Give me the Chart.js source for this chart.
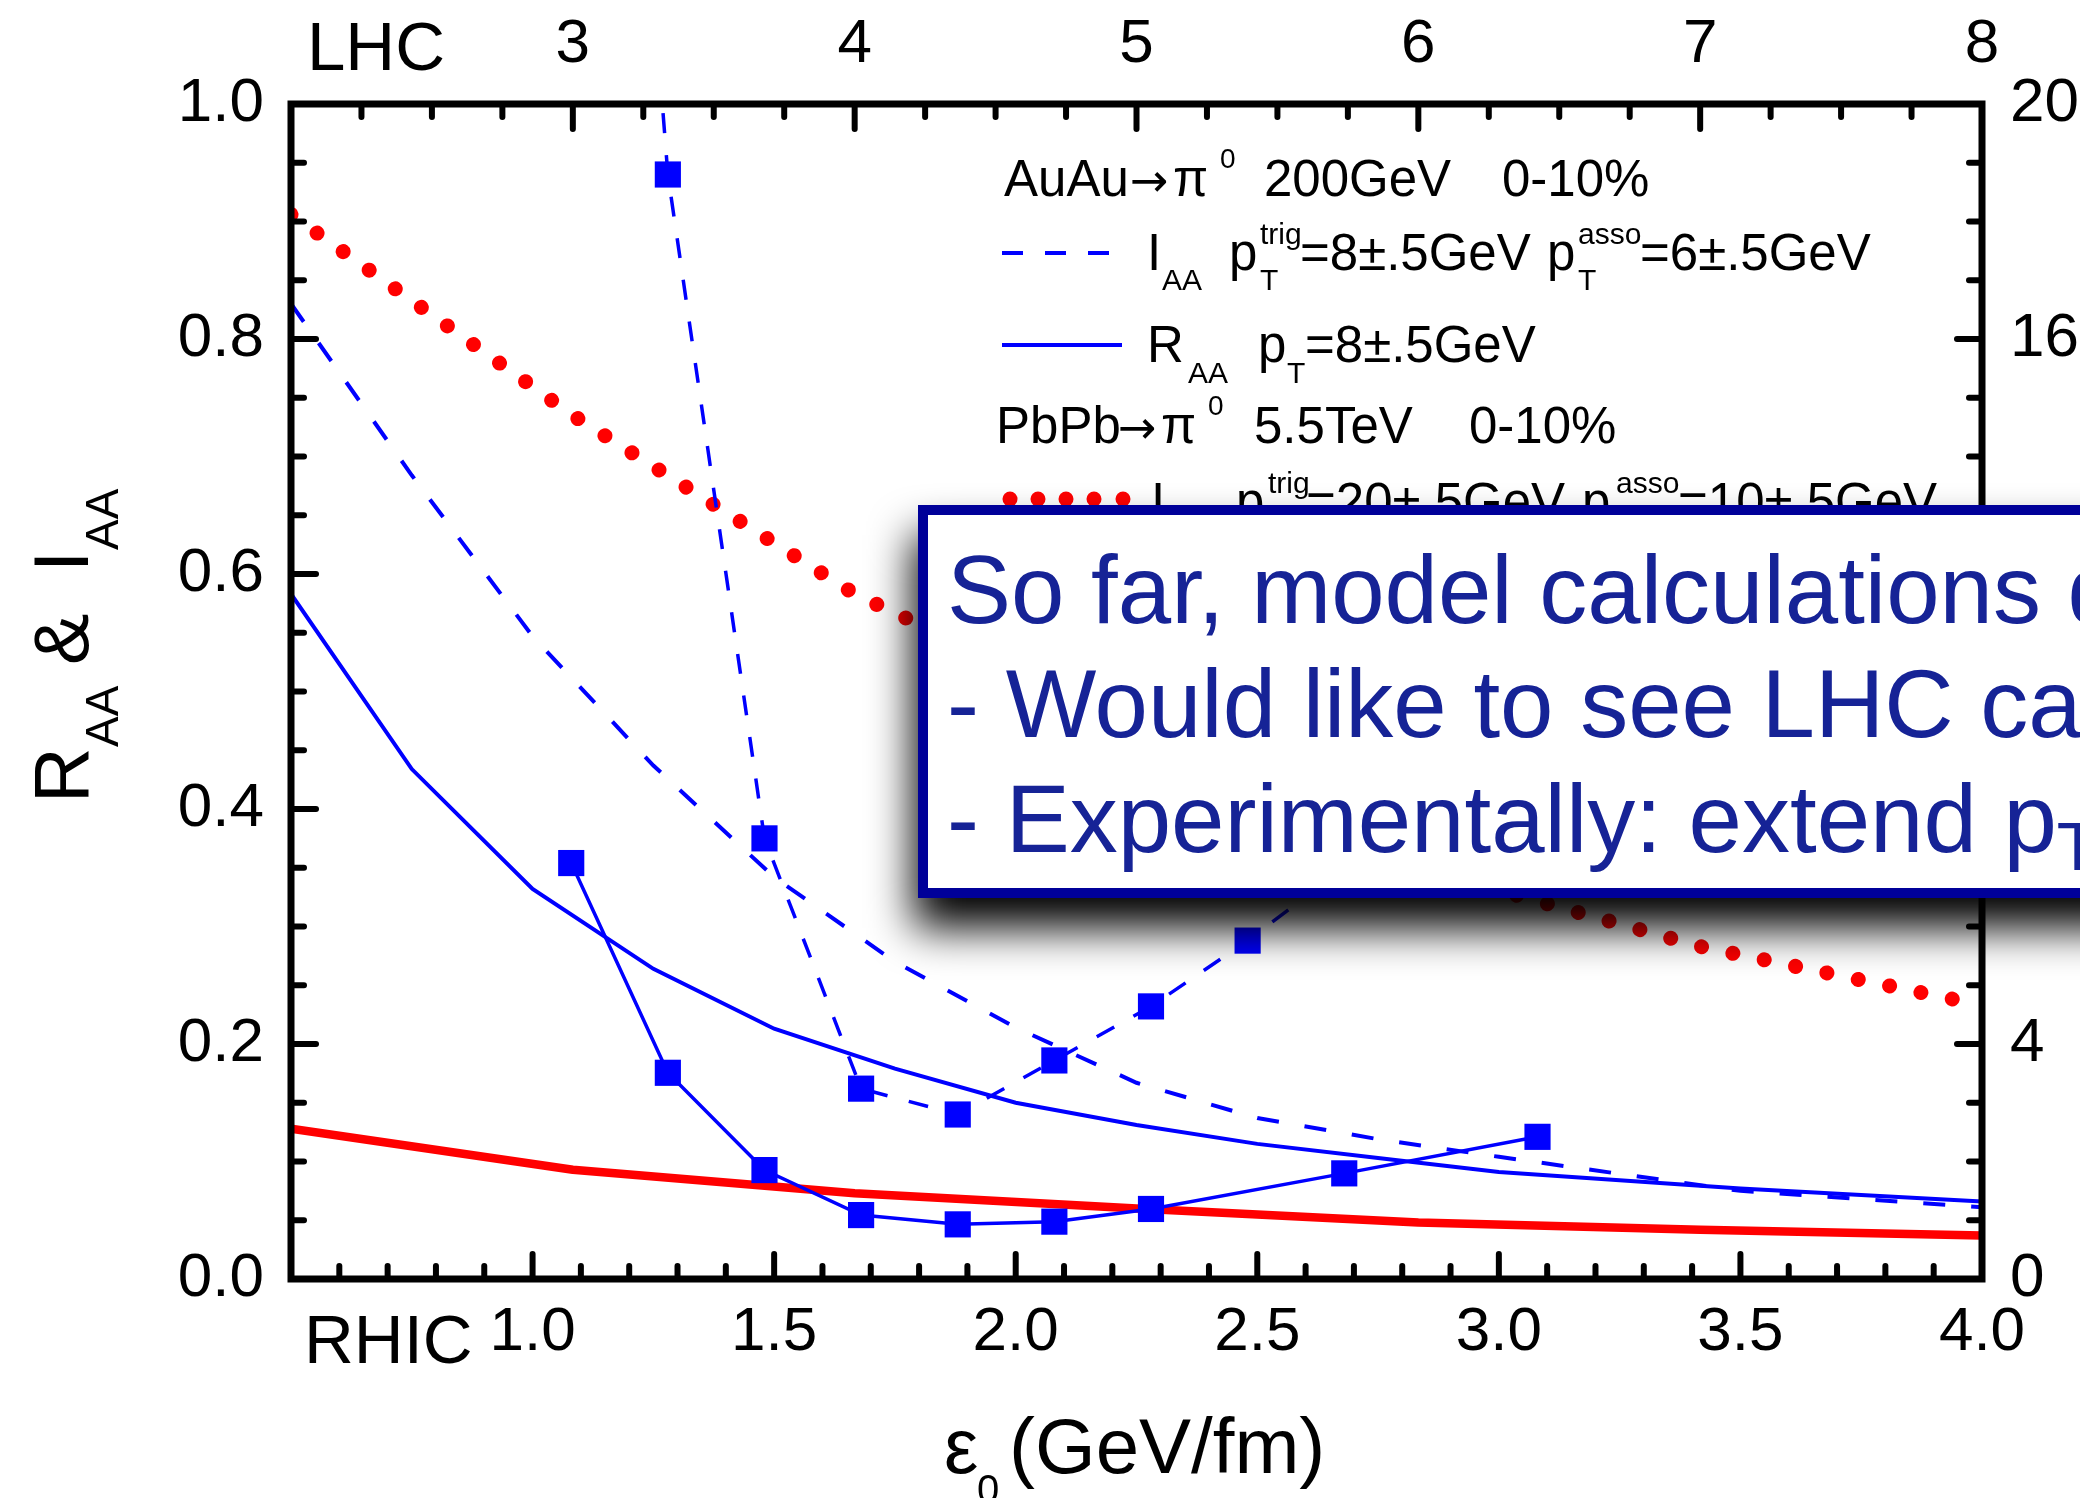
<!DOCTYPE html>
<html>
<head>
<meta charset="utf-8">
<script src="https://cdn.jsdelivr.net/npm/chart.js@4.4.1/dist/chart.umd.min.js"></script>
<style>
html,body{margin:0;padding:0;background:#fff;overflow:hidden;width:2080px;height:1498px;}
#wrap{position:relative;width:2080px;height:1498px;}
#c{position:absolute;left:0;top:0;}
#ov{position:absolute;left:0;top:0;}
#ov text{font-family:'Liberation Sans',Arial,Helvetica,sans-serif;fill:#000;}
#ov text.sym{font-family:'DejaVu Sans','Liberation Sans',sans-serif;}
#ov .bx{fill:#162396;}
</style>
</head>
<body>
<div id="wrap">
<canvas id="c" width="2080" height="1498"></canvas>
<svg id="ov" width="2080" height="1498" xmlns="http://www.w3.org/2000/svg">
  <defs>
    <filter id="sh" x="-10%" y="-30%" width="130%" height="190%">
      <feDropShadow dx="-4" dy="30" stdDeviation="22" flood-color="#000" flood-opacity="1"/>
    </filter>
  </defs>
  <!-- top / bottom axis side labels -->
  <text x="307" y="70" font-size="69">LHC</text>
  <text x="304" y="1363" font-size="69">RHIC</text>
  <!-- x title -->
  <text x="944" y="1473" font-size="77">ε</text>
  <text x="977" y="1503" font-size="40">0</text>
  <text x="1009" y="1473" font-size="78">(GeV/fm)</text>
  <!-- y title -->
  <g transform="translate(88,797) rotate(-90)">
    <text x="-6" y="0" font-size="77">R</text>
    <text x="50" y="30" font-size="46">AA</text>
    <text x="132" y="0" font-size="77">&amp;</text>
    <text x="225" y="0" font-size="77">I</text>
    <text x="247" y="30" font-size="46">AA</text>
  </g>
  <!-- legend row 1 -->
  <text x="1004" y="196" font-size="51">AuAu</text>
  <text class="sym" x="1130" y="196" font-size="46">→</text>
  <text x="1173" y="196" font-size="51">π</text>
  <text x="1220" y="168" font-size="28">0</text>
  <text x="1264" y="196" font-size="51">200GeV</text>
  <text x="1502" y="196" font-size="51">0-10%</text>
  <!-- legend row 2 -->
  <line x1="1002" y1="253" x2="1110" y2="253" stroke="#0000ff" stroke-width="4" stroke-dasharray="21 22"/>
  <text x="1147" y="270" font-size="51">I</text>
  <text x="1162" y="290" font-size="30">AA</text>
  <text x="1229" y="270" font-size="51">p</text>
  <text x="1260" y="244" font-size="30">trig</text>
  <text x="1260" y="290" font-size="30">T</text>
  <text x="1300" y="270" font-size="51">=8±.5GeV</text>
  <text x="1547" y="270" font-size="51">p</text>
  <text x="1578" y="244" font-size="30">asso</text>
  <text x="1578" y="290" font-size="30">T</text>
  <text x="1640" y="270" font-size="51">=6±.5GeV</text>
  <!-- legend row 3 -->
  <line x1="1002" y1="345" x2="1122" y2="345" stroke="#0000ff" stroke-width="4"/>
  <text x="1147" y="362" font-size="51">R</text>
  <text x="1188" y="383" font-size="30">AA</text>
  <text x="1258" y="362" font-size="51">p</text>
  <text x="1287" y="383" font-size="30">T</text>
  <text x="1305" y="362" font-size="51">=8±.5GeV</text>
  <!-- legend row 4 -->
  <text x="996" y="443" font-size="51">PbPb</text>
  <text class="sym" x="1118" y="443" font-size="46">→</text>
  <text x="1161" y="443" font-size="51">π</text>
  <text x="1208" y="415" font-size="28">0</text>
  <text x="1254" y="443" font-size="51">5.5TeV</text>
  <text x="1469" y="443" font-size="51">0-10%</text>
  <!-- legend row 5 (mostly hidden) -->
  <g fill="#ff0000">
    <circle cx="1010" cy="499" r="7.5"/><circle cx="1038" cy="499" r="7.5"/><circle cx="1066" cy="499" r="7.5"/><circle cx="1094" cy="499" r="7.5"/><circle cx="1123" cy="499" r="7.5"/>
  </g>
  <text x="1151" y="519" font-size="51">I</text>
  <text x="1166" y="540" font-size="30">AA</text>
  <text x="1236" y="519" font-size="51">p</text>
  <text x="1268" y="493" font-size="30">trig</text>
  <text x="1306" y="519" font-size="51">=20±.5GeV</text>
  <text x="1582" y="519" font-size="51">p</text>
  <text x="1616" y="493" font-size="30">asso</text>
  <text x="1678" y="519" font-size="51">=10±.5GeV</text>
  <!-- overlay box -->
  <rect x="923" y="510" width="1300" height="383" fill="#ffffff" stroke="#000099" stroke-width="10" filter="url(#sh)"/>
  <text class="bx" x="947" y="623" font-size="96">So far, model calculations differ</text>
  <text class="bx" x="947" y="737" font-size="96">- Would like to see LHC calculations</text>
  <text class="bx" x="947" y="852" font-size="96">- Experimentally: extend p<tspan font-size="68" dy="18">T</tspan><tspan dy="-18"> range</tspan></text>
</svg>
</div>
<script>
// ---------------- data ----------------
// RHIC curves (bottom axis, eps0 in GeV/fm)
const rhicX        = [0.5, 0.75, 1.0, 1.25, 1.5, 1.75, 2.0, 2.25, 2.5, 2.75, 3.0, 3.5, 4.0];
const rhicIaaCurve = [0.830, 0.684, 0.547, 0.437, 0.342, 0.270, 0.214, 0.167, 0.137, 0.119, 0.104, 0.075, 0.061];
const rhicRaaCurve = [0.583, 0.434, 0.332, 0.264, 0.213, 0.179, 0.150, 0.131, 0.115, 0.103, 0.091, 0.077, 0.066];
// RHIC marker series
const iaaMarkX     = [1.08, 1.28, 1.48, 1.68, 1.88, 2.08, 2.28, 2.48, 2.68];
const iaaMarkY     = [1.99, 0.940, 0.375, 0.162, 0.140, 0.186, 0.232, 0.288, 0.350];
const raaMarkX     = [1.08, 1.28, 1.48, 1.68, 1.88, 2.08, 2.28, 2.68, 3.08];
const raaMarkY     = [0.354, 0.1755, 0.0927, 0.0544, 0.0465, 0.0488, 0.0596, 0.0899, 0.121];
// LHC curves (top axis)
const lhcX         = [2, 3, 4, 5, 6, 7, 8];
const lhcIaaCurve  = [0.906, 0.735, 0.583, 0.470, 0.350, 0.283, 0.233];
const lhcRaaCurve  = [0.128, 0.093, 0.073, 0.060, 0.048, 0.042, 0.037];
// tick values / labels
const bottomTickValues = [0.5, 1.0, 1.5, 2.0, 2.5, 3.0, 3.5, 4.0];
const bottomTickLabels = ['', '1.0', '1.5', '2.0', '2.5', '3.0', '3.5', '4.0'];
const topTickValues    = [2, 3, 4, 5, 6, 7, 8];
const topTickLabels    = ['', '3', '4', '5', '6', '7', '8'];
const leftTickValues   = [0, 0.2, 0.4, 0.6, 0.8, 1.0];
const leftTickLabels   = ['0.0', '0.2', '0.4', '0.6', '0.8', '1.0'];
const rightTickValues  = [0, 4, 8, 12, 16, 20];
const rightTickLabels  = ['0', '4', '8', '12', '16', '20'];

// ---------------- chart ----------------
const FONT = "'Liberation Sans', Arial, Helvetica, sans-serif";
const BLUE = '#0000ff', RED = '#ff0000';
const pts = (xs, ys) => xs.map((x, i) => ({x: x, y: ys[i]}));

const frameTicks = {
  id: 'frameTicks',
  afterDatasetsDraw(chart) {
    const {ctx, chartArea: a, scales} = chart;
    ctx.save();
    ctx.strokeStyle = '#000';
    ctx.lineCap = 'round';
    ctx.lineWidth = 6;
    const seg = (x1, y1, x2, y2) => { ctx.beginPath(); ctx.moveTo(x1, y1); ctx.lineTo(x2, y2); ctx.stroke(); };
    const MAJ = 25, MIN = 13;
    for (let k = 0; k <= 35; k++) {            // bottom: minor 0.1, major 0.5
      const p = scales.x.getPixelForValue(0.5 + k * 0.1);
      seg(p, a.bottom, p, a.bottom - (k % 5 === 0 ? MAJ : MIN));
    }
    for (let k = 0; k <= 24; k++) {            // top: minor 0.25, major 1
      const p = scales.x2.getPixelForValue(2 + k * 0.25);
      seg(p, a.top, p, a.top + (k % 4 === 0 ? MAJ : MIN));
    }
    for (let k = 0; k <= 20; k++) {            // left: minor 0.05, major 0.2
      const p = scales.y.getPixelForValue(k * 0.05);
      seg(a.left, p, a.left + (k % 4 === 0 ? MAJ : MIN), p);
    }
    for (let k = 0; k <= 20; k++) {            // right: minor 1, major 4
      const p = scales.y2.getPixelForValue(k);
      seg(a.right, p, a.right - (k % 4 === 0 ? MAJ : MIN), p);
    }
    ctx.lineWidth = 7;
    ctx.lineJoin = 'miter';
    ctx.strokeRect(a.left, a.top, a.right - a.left, a.bottom - a.top);
    ctx.restore();
  }
};

const tickFont = {family: FONT, size: 62};
const noGrid = {display: false, drawTicks: false};

new Chart(document.getElementById('c'), {
  type: 'line',
  data: {
    datasets: [
      {label: 'I_AA RHIC markers', data: pts(iaaMarkX, iaaMarkY), xAxisID: 'x', yAxisID: 'y',
       borderColor: BLUE, borderWidth: 3.5, borderDash: [20, 22], pointStyle: 'rect', pointRadius: 18.5,
       pointBackgroundColor: BLUE, pointBorderWidth: 0, pointBorderColor: BLUE, fill: false, tension: 0},
      {label: 'R_AA RHIC markers', data: pts(raaMarkX, raaMarkY), xAxisID: 'x', yAxisID: 'y',
       borderColor: BLUE, borderWidth: 3.5, pointStyle: 'rect', pointRadius: 18.5,
       pointBackgroundColor: BLUE, pointBorderWidth: 0, pointBorderColor: BLUE, fill: false, tension: 0},
      {label: 'I_AA RHIC', data: pts(rhicX, rhicIaaCurve), xAxisID: 'x', yAxisID: 'y',
       borderColor: BLUE, borderWidth: 4, borderDash: [22, 26], pointRadius: 0, fill: false, tension: 0},
      {label: 'R_AA RHIC', data: pts(rhicX, rhicRaaCurve), xAxisID: 'x', yAxisID: 'y',
       borderColor: BLUE, borderWidth: 4, pointRadius: 0, fill: false, tension: 0},
      {label: 'I_AA LHC', data: pts(lhcX, lhcIaaCurve), xAxisID: 'x2', yAxisID: 'y',
       borderColor: RED, borderWidth: 15, borderDash: [0.01, 32], borderCapStyle: 'round',
       pointRadius: 0, fill: false, tension: 0},
      {label: 'R_AA LHC', data: pts(lhcX, lhcRaaCurve), xAxisID: 'x2', yAxisID: 'y',
       borderColor: RED, borderWidth: 8.5, borderJoinStyle: 'round', pointRadius: 0, fill: false, tension: 0}
    ]
  },
  options: {
    responsive: false,
    devicePixelRatio: 1,
    animation: false,
    layout: {padding: 0},
    plugins: {legend: {display: false}, tooltip: {enabled: false}},
    scales: {
      x: {type: 'linear', position: 'bottom', min: 0.5, max: 4.0,
          afterBuildTicks: s => { s.ticks = bottomTickValues.map(v => ({value: v})); },
          afterFit: s => { s.height = 219; },
          grid: noGrid, border: {display: false},
          ticks: {autoSkip: false, maxRotation: 0, minRotation: 0, padding: 17, font: tickFont, color: '#000',
                  callback: (v, i) => bottomTickLabels[i]}},
      x2: {type: 'linear', position: 'top', min: 2, max: 8, display: true,
          afterBuildTicks: s => { s.ticks = topTickValues.map(v => ({value: v})); },
          afterFit: s => { s.height = 104; },
          grid: noGrid, border: {display: false},
          ticks: {autoSkip: false, maxRotation: 0, minRotation: 0, padding: 22, font: tickFont, color: '#000',
                  callback: (v, i) => topTickLabels[i]}},
      y: {type: 'linear', position: 'left', min: 0, max: 1.0,
          afterBuildTicks: s => { s.ticks = leftTickValues.map(v => ({value: v})); },
          afterFit: s => { s.width = 291; },
          grid: noGrid, border: {display: false},
          ticks: {autoSkip: false, padding: 27, font: tickFont, color: '#000',
                  callback: (v, i) => leftTickLabels[i]}},
      y2: {type: 'linear', position: 'right', min: 0, max: 20, display: true,
          afterBuildTicks: s => { s.ticks = rightTickValues.map(v => ({value: v})); },
          afterFit: s => { s.width = 98; },
          grid: noGrid, border: {display: false},
          ticks: {autoSkip: false, padding: 28, font: tickFont, color: '#000',
                  callback: (v, i) => rightTickLabels[i]}}
    }
  },
  plugins: [frameTicks]
});
</script>
</body>
</html>
